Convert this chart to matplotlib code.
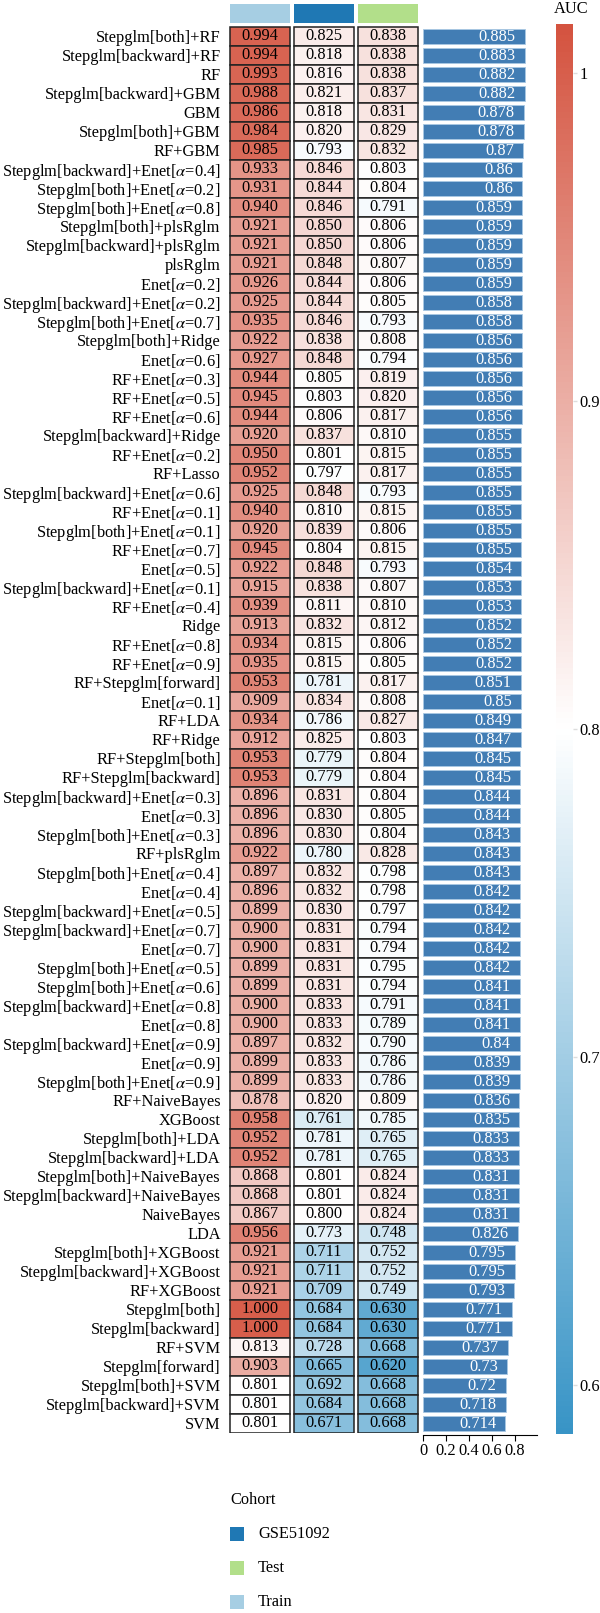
import numpy as np
import matplotlib
matplotlib.use('Agg')
import matplotlib.pyplot as plt
from matplotlib.colors import LinearSegmentedColormap, Normalize
from matplotlib.patches import Rectangle

plt.rcParams['font.family'] = ['Liberation Serif', 'DejaVu Serif']
plt.rcParams['mathtext.fontset'] = 'stix'

# models, top to bottom
models = [
    'Stepglm[both]+RF', 'Stepglm[backward]+RF', 'RF', 'Stepglm[backward]+GBM', 'GBM',
    'Stepglm[both]+GBM', 'RF+GBM', 'Stepglm[backward]+Enet[α=0.4]', 'Stepglm[both]+Enet[α=0.2]',
    'Stepglm[both]+Enet[α=0.8]', 'Stepglm[both]+plsRglm', 'Stepglm[backward]+plsRglm', 'plsRglm',
    'Enet[α=0.2]', 'Stepglm[backward]+Enet[α=0.2]', 'Stepglm[both]+Enet[α=0.7]', 'Stepglm[both]+Ridge',
    'Enet[α=0.6]', 'RF+Enet[α=0.3]', 'RF+Enet[α=0.5]', 'RF+Enet[α=0.6]', 'Stepglm[backward]+Ridge',
    'RF+Enet[α=0.2]', 'RF+Lasso', 'Stepglm[backward]+Enet[α=0.6]', 'RF+Enet[α=0.1]',
    'Stepglm[both]+Enet[α=0.1]', 'RF+Enet[α=0.7]', 'Enet[α=0.5]', 'Stepglm[backward]+Enet[α=0.1]',
    'RF+Enet[α=0.4]', 'Ridge', 'RF+Enet[α=0.8]', 'RF+Enet[α=0.9]', 'RF+Stepglm[forward]',
    'Enet[α=0.1]', 'RF+LDA', 'RF+Ridge', 'RF+Stepglm[both]', 'RF+Stepglm[backward]',
    'Stepglm[backward]+Enet[α=0.3]', 'Enet[α=0.3]', 'Stepglm[both]+Enet[α=0.3]', 'RF+plsRglm',
    'Stepglm[both]+Enet[α=0.4]', 'Enet[α=0.4]', 'Stepglm[backward]+Enet[α=0.5]',
    'Stepglm[backward]+Enet[α=0.7]', 'Enet[α=0.7]', 'Stepglm[both]+Enet[α=0.5]',
    'Stepglm[both]+Enet[α=0.6]', 'Stepglm[backward]+Enet[α=0.8]', 'Enet[α=0.8]',
    'Stepglm[backward]+Enet[α=0.9]', 'Enet[α=0.9]', 'Stepglm[both]+Enet[α=0.9]', 'RF+NaiveBayes',
    'XGBoost', 'Stepglm[both]+LDA', 'Stepglm[backward]+LDA', 'Stepglm[both]+NaiveBayes',
    'Stepglm[backward]+NaiveBayes', 'NaiveBayes', 'LDA', 'Stepglm[both]+XGBoost',
    'Stepglm[backward]+XGBoost', 'RF+XGBoost', 'Stepglm[both]', 'Stepglm[backward]', 'RF+SVM',
    'Stepglm[forward]', 'Stepglm[both]+SVM', 'Stepglm[backward]+SVM', 'SVM',
]

train = [0.994, 0.994, 0.993, 0.988, 0.986, 0.984, 0.985, 0.933, 0.931, 0.940, 0.921, 0.921, 0.921,
         0.926, 0.925, 0.935, 0.922, 0.927, 0.944, 0.945, 0.944, 0.920, 0.950, 0.952, 0.925, 0.940,
         0.920, 0.945, 0.922, 0.915, 0.939, 0.913, 0.934, 0.935, 0.953, 0.909, 0.934, 0.912, 0.953,
         0.953, 0.896, 0.896, 0.896, 0.922, 0.897, 0.896, 0.899, 0.900, 0.900, 0.899, 0.899, 0.900,
         0.900, 0.897, 0.899, 0.899, 0.878, 0.958, 0.952, 0.952, 0.868, 0.868, 0.867, 0.956, 0.921,
         0.921, 0.921, 1.000, 1.000, 0.813, 0.903, 0.801, 0.801, 0.801]

gse51092 = [0.825, 0.818, 0.816, 0.821, 0.818, 0.820, 0.793, 0.846, 0.844, 0.846, 0.850, 0.850, 0.848,
            0.844, 0.844, 0.846, 0.838, 0.848, 0.805, 0.803, 0.806, 0.837, 0.801, 0.797, 0.848, 0.810,
            0.839, 0.804, 0.848, 0.838, 0.811, 0.832, 0.815, 0.815, 0.781, 0.834, 0.786, 0.825, 0.779,
            0.779, 0.831, 0.830, 0.830, 0.780, 0.832, 0.832, 0.830, 0.831, 0.831, 0.831, 0.831, 0.833,
            0.833, 0.832, 0.833, 0.833, 0.820, 0.761, 0.781, 0.781, 0.801, 0.801, 0.800, 0.773, 0.711,
            0.711, 0.709, 0.684, 0.684, 0.728, 0.665, 0.692, 0.684, 0.671]

test = [0.838, 0.838, 0.838, 0.837, 0.831, 0.829, 0.832, 0.803, 0.804, 0.791, 0.806, 0.806, 0.807,
        0.806, 0.805, 0.793, 0.808, 0.794, 0.819, 0.820, 0.817, 0.810, 0.815, 0.817, 0.793, 0.815,
        0.806, 0.815, 0.793, 0.807, 0.810, 0.812, 0.806, 0.805, 0.817, 0.808, 0.827, 0.803, 0.804,
        0.804, 0.804, 0.805, 0.804, 0.828, 0.798, 0.798, 0.797, 0.794, 0.794, 0.795, 0.794, 0.791,
        0.789, 0.790, 0.786, 0.786, 0.809, 0.785, 0.765, 0.765, 0.824, 0.824, 0.824, 0.748, 0.752,
        0.752, 0.749, 0.630, 0.630, 0.668, 0.620, 0.668, 0.668, 0.668]

mean_auc = [0.885, 0.883, 0.882, 0.882, 0.878, 0.878, 0.87, 0.86, 0.86, 0.859, 0.859, 0.859, 0.859,
            0.859, 0.858, 0.858, 0.856, 0.856, 0.856, 0.856, 0.856, 0.855, 0.855, 0.855, 0.855, 0.855,
            0.855, 0.855, 0.854, 0.853, 0.853, 0.852, 0.852, 0.852, 0.851, 0.85, 0.849, 0.847, 0.845,
            0.845, 0.844, 0.844, 0.843, 0.843, 0.843, 0.842, 0.842, 0.842, 0.842, 0.842, 0.841, 0.841,
            0.841, 0.84, 0.839, 0.839, 0.836, 0.835, 0.833, 0.833, 0.831, 0.831, 0.831, 0.826, 0.795,
            0.795, 0.793, 0.771, 0.771, 0.737, 0.73, 0.72, 0.718, 0.714]

cohorts = ['Train', 'GSE51092', 'Test']
cohort_colors = {'Train': '#A6CEE3', 'GSE51092': '#1F78B4', 'Test': '#B2DF8A'}

cmap = LinearSegmentedColormap.from_list('auc', ['#3894c6', '#ffffff', '#d4533f'])
norm = Normalize(vmin=0.585, vmax=1.015)

W, H = 600, 1613
fig = plt.figure(figsize=(W / 100, H / 100), dpi=100)

def px_axes(x0, x1, y0, y1):
    return fig.add_axes([x0 / W, 1 - y1 / H, (x1 - x0) / W, (y1 - y0) / H])

n = len(models)
pitch = 19.0
top_rows = 26.6
bottom_rows = top_rows + n * pitch
hdr_rows = 1.2

# heatmap
ax = px_axes(229, 419, top_rows - hdr_rows * pitch, bottom_rows)
cw = 0.94
data = [train, gse51092, test]
for j, col in enumerate(data):
    for i, v in enumerate(col):
        ax.add_patch(Rectangle((j, i), cw, 1, facecolor=cmap(norm(v)),
                               edgecolor='#222222', linewidth=1.1))
        ax.text(j + cw / 2, i + 0.52, f'{v:.3f}', ha='center', va='center', fontsize=11.8)
    ax.add_patch(Rectangle((j, -1.18), cw, 1.0, facecolor=cohort_colors[cohorts[j]],
                           edgecolor='none'))
ax.set_xlim(-0.01, 2 + cw + 0.01)
ax.set_ylim(n, -hdr_rows)
ax.set_yticks(np.arange(n) + 0.5)
ax.set_yticklabels([m.replace('α', r'$\alpha$') for m in models], fontsize=11.8)
ax.tick_params(axis='y', length=0, pad=6)
ax.set_xticks([])
for s in ax.spines.values():
    s.set_visible(False)

# bar chart of mean AUC
bx = px_axes(423, 537, top_rows - hdr_rows * pitch, bottom_rows + 2)
ypos = np.arange(n) + 0.5
bx.barh(ypos, mean_auc, height=0.78, color='#427db4', edgecolor='#a9c8e3', linewidth=0.6)
for y, v in zip(ypos, mean_auc):
    bx.text(v - 0.08, y + 0.03, f'{v:g}', ha='right', va='center', color='white', fontsize=11.8)
bx.set_xlim(0, 0.99)
bx.set_ylim(n + 2 / pitch, -hdr_rows)
bx.set_yticks([])
bx.set_xticks([0, 0.2, 0.4, 0.6, 0.8])
bx.set_xticklabels(['0', '0.2', '0.4', '0.6', '0.8'], fontsize=11.8)
bx.tick_params(axis='x', length=4, width=0.8, pad=2)
for s in ['top', 'right', 'left']:
    bx.spines[s].set_visible(False)
bx.spines['bottom'].set_linewidth(0.8)

# colorbar
cax = px_axes(556, 573, 24, 1434)
sm = plt.cm.ScalarMappable(norm=norm, cmap=cmap)
cb = fig.colorbar(sm, cax=cax)
cb.outline.set_visible(False)
cb.set_ticks([0.6, 0.7, 0.8, 0.9, 1.0])
cb.set_ticklabels(['0.6', '0.7', '0.8', '0.9', '1'])
cb.ax.tick_params(labelsize=11.8, length=3, color='#dddddd', width=1, pad=1.5)
fig.text(571 / W, 1 - 9 / H, 'AUC', ha='center', va='center', fontsize=11.8)

# cohort legend
fig.text(230 / W, 1 - 1500 / H, 'Cohort', ha='left', va='center', fontsize=11.8)
for k, name in enumerate(['GSE51092', 'Test', 'Train']):
    yc = 1534 + k * 34
    fig.patches.append(Rectangle((230 / W, 1 - (yc + 7) / H), 14 / W, 14 / H,
                                 facecolor=cohort_colors[name], edgecolor='none',
                                 transform=fig.transFigure, figure=fig))
    fig.text(258 / W, 1 - yc / H, name, ha='left', va='center', fontsize=11.8)

fig.savefig('out.png', dpi=100)
